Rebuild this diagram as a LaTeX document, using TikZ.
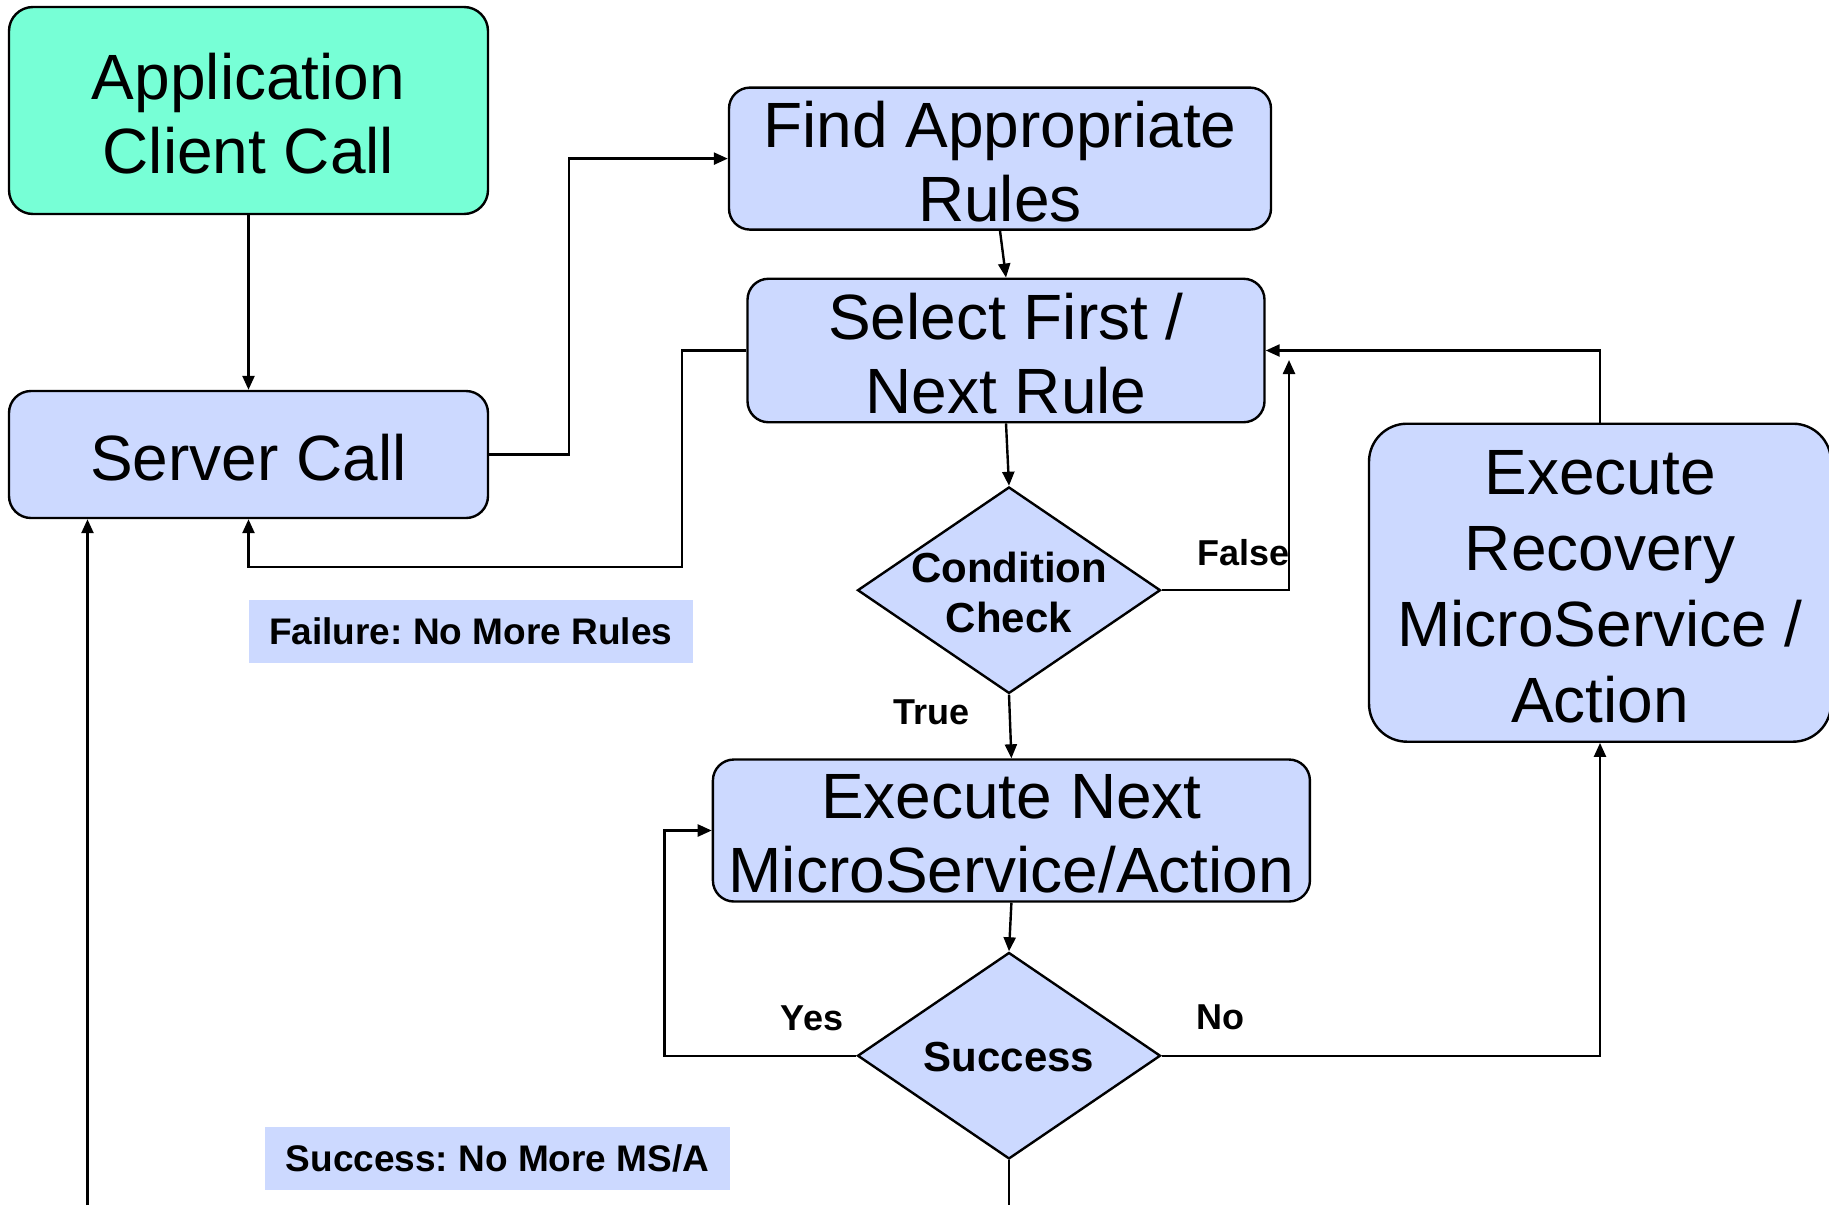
\documentclass[tikz,border=0pt]{standalone}
\usepackage{fontspec}
\setmainfont{Liberation Sans}
\frenchspacing
\usetikzlibrary{shapes.geometric,arrows.meta}
\definecolor{appgreen}{RGB}{119,255,214}
\definecolor{stepblue}{RGB}{204,217,255}

\begin{document}
\begin{tikzpicture}[x=0.5pt,y=-0.5pt,
  flowbox/.style={draw=black, line width=1.2pt, fill=stepblue, rectangle, inner sep=0pt},
  boxtext/.style={inner sep=0pt, align=center, yshift=-1.5pt,
    font=\fontsize{32}{37}\selectfont},
  decision/.style={draw=black, line width=1.2pt, fill=stepblue, diamond,
    inner sep=0pt, minimum width=151.5pt, minimum height=103.25pt},
  decisiontext/.style={inner sep=0pt, yshift=-1.2pt, align=center,
    font=\bfseries\fontsize{21}{25}\selectfont},
  note/.style={fill=stepblue, inner sep=0pt, minimum height=31.5pt,
    font=\bfseries\fontsize{18.5}{22}\selectfont},
  edgelabel/.style={inner sep=0pt, font=\bfseries\fontsize{18}{21}\selectfont},
  arr/.style={line width=1.2pt, -{Triangle[length=7pt,width=6pt]}},
  link/.style={line width=1.2pt}
]
\useasboundingbox (0,0) rectangle (1829,1205);
\clip (0,0) rectangle (1829,1205);

% process boxes
\node[flowbox, fill=appgreen, rounded corners=12pt,
      minimum width=239.5pt, minimum height=103.5pt,
      label={[boxtext]center:Application\\Client Call}] (app) at (248.5,110.5) {};
\node[flowbox, rounded corners=11pt,
      minimum width=239.5pt, minimum height=63.5pt,
      label={[boxtext]center:Server Call}] (server) at (248.5,454.5) {};
\node[flowbox, rounded corners=10.5pt,
      minimum width=271pt, minimum height=71pt,
      label={[boxtext]center:Find Appropriate\\Rules}] (find) at (1000,158.6) {};
\node[flowbox, rounded corners=10.5pt,
      minimum width=258.5pt, minimum height=71.75pt,
      label={[boxtext]center:Select First /\\Next Rule}] (select) at (1006,350.5) {};
\node[flowbox, rounded corners=10.5pt,
      minimum width=298.5pt, minimum height=71pt,
      label={[boxtext]center:Execute Next\\MicroService/Action}] (exec) at (1011.4,830.5) {};
\node[flowbox, rounded corners=19pt,
      minimum width=231pt, minimum height=159pt,
      label={[boxtext, yshift=-0.5pt, font=\fontsize{32}{38}\selectfont]center:Execute\\Recovery\\MicroService /\\Action}]
      (recov) at (1600,582.7) {};

% decisions
\node[decision, label={[decisiontext]center:Condition\\Check}] (cond) at (1009,590.2) {};
\node[decision, label={[decisiontext, yshift=0.4pt]center:Success}] (succ) at (1009,1055.7) {};

% outcome notes
\node[note, minimum width=222pt] (failnote) at (470.7,631) {Failure: No More Rules};
\node[note, minimum width=232.7pt] (succnote) at (497.5,1158.4) {Success: No More MS/A};

% branch labels
\node[edgelabel] (lfalse) at (1243.5,553) {False};
\node[edgelabel] (ltrue) at (931,712.7) {True};
\node[edgelabel] (lyes) at (812,1018) {Yes};
\node[edgelabel] (lno) at (1220,1017) {No};

% free ends of connectors
\coordinate (fallback) at (682,567);
\coordinate (falseend) at (1289,360);
\coordinate (succdown) at (1009,1205);
\coordinate (returnup) at (87.5,1205);

% connectors
\draw[arr] (app.south) -- (server.north);
\draw[arr] (server.east) -- ++(80,0) |- (find.west);
\draw[arr] (find.south) -- (select.north);
\draw[arr] (select.west) -| (fallback) -| (server.south);
\draw[arr] (select.south) -- (cond.north);
\draw[arr] (cond.east) -| (falseend);
\draw[arr] (recov.north) |- (select.east);
\draw[arr] (cond.south) -- (exec.north);
\draw[arr] (exec.south) -- (succ.north);
\draw[arr] (succ.west) -- ++(-192,0) |- (exec.west);
\draw[arr] (succ.east) -| (recov.south);
\draw[link] (succ.south) -- (succdown);
\draw[arr] (returnup) -- (returnup |- server.south);
\end{tikzpicture}
\end{document}
